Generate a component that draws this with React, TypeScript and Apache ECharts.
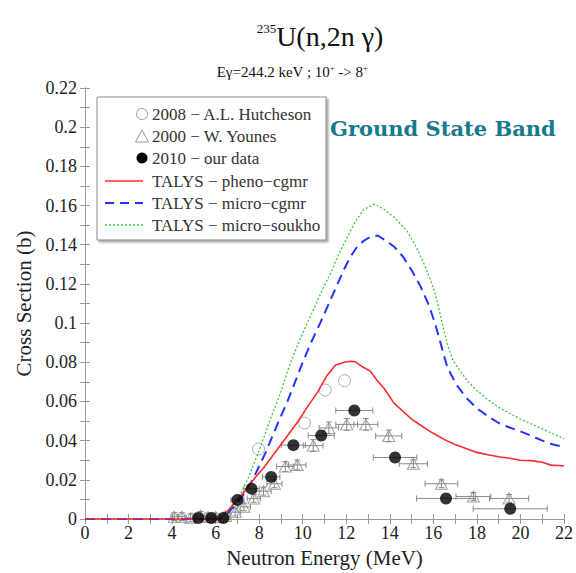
import React, { useEffect, useRef } from "react";
import * as echarts from "echarts";

// Measured points: [energy MeV, cross section b, x half-width, y half-width]
const younes2000: number[][] = [
  [4.1, 0.0012, 0.15, 0.002], [4.45, 0.0012, 0.15, 0.002], [4.85, 0.0006, 0.2, 0.002],
  [5.3, 0.0018, 0.2, 0.002], [5.65, 0.001, 0.2, 0.002], [6.0, 0.001, 0.2, 0.002],
  [6.45, 0.0015, 0.25, 0.002], [6.9, 0.0035, 0.25, 0.002], [7.3, 0.0062, 0.3, 0.002],
  [7.75, 0.0105, 0.3, 0.002], [8.2, 0.0142, 0.35, 0.002], [8.7, 0.018, 0.35, 0.002],
  [9.2, 0.0268, 0.4, 0.0025], [9.75, 0.0276, 0.4, 0.0025], [10.48, 0.0375, 0.45, 0.003],
  [11.2, 0.0465, 0.45, 0.003], [12.02, 0.0483, 0.5, 0.003], [12.9, 0.0483, 0.55, 0.003],
  [13.95, 0.0424, 0.6, 0.003], [15.08, 0.0282, 0.65, 0.002], [16.37, 0.018, 0.75, 0.002],
  [17.84, 0.0115, 0.8, 0.002], [19.48, 0.0105, 0.9, 0.002],
];

const hutcheson2008: number[][] = [
  [7.97, 0.0357], [10.08, 0.049], [11.03, 0.0658], [11.92, 0.0706],
];

const ourData2010: number[][] = [
  [5.2, 0.0005, 0.2, 0], [5.8, 0.0005, 0.2, 0], [6.35, 0.0005, 0.25, 0],
  [7.0, 0.0097, 0.3, 0], [7.65, 0.0155, 0.35, 0], [8.55, 0.0215, 0.4, 0],
  [9.57, 0.0377, 0.55, 0], [10.85, 0.0426, 0.6, 0], [12.37, 0.0554, 0.85, 0],
  [14.24, 0.0314, 1.0, 0], [16.58, 0.0105, 1.35, 0], [19.53, 0.0052, 1.7, 0],
];

// TALYS calculations: [energy MeV, cross section b]
const phenoCgmr: number[][] = [
  [0, 0], [6.0, 0], [6.3, 0.001], [6.7, 0.006], [7.0, 0.01], [7.4, 0.015], [7.8, 0.021],
  [8.2, 0.026], [8.6, 0.032], [9.0, 0.038], [9.4, 0.044], [9.8, 0.05], [10.2, 0.057],
  [10.7, 0.065], [11.1, 0.073], [11.5, 0.0785], [11.9, 0.08], [12.2, 0.0805], [12.4, 0.0803],
  [12.7, 0.078], [13.1, 0.0755], [13.4, 0.071], [13.75, 0.0665], [14.2, 0.059], [14.6, 0.055],
  [15.0, 0.051], [15.4, 0.048], [15.8, 0.045], [16.2, 0.0425], [16.6, 0.04], [17.0, 0.038],
  [17.5, 0.036], [18.0, 0.034], [18.5, 0.0328], [19.0, 0.0318], [19.5, 0.031], [20.0, 0.03],
  [20.5, 0.0298], [21.0, 0.029], [21.4, 0.0275], [22.0, 0.0272],
];

const microCgmr: number[][] = [
  [0, 0], [6.1, 0], [6.4, 0.001], [6.8, 0.006], [7.2, 0.011], [7.7, 0.02], [8.0, 0.027],
  [8.3, 0.034], [8.9, 0.05], [9.3, 0.06], [9.65, 0.07], [10.0, 0.08], [10.4, 0.0905],
  [10.8, 0.1], [11.2, 0.11], [11.6, 0.12], [11.9, 0.1275], [12.2, 0.134], [12.5, 0.139],
  [12.8, 0.142], [13.1, 0.144], [13.45, 0.1447], [13.9, 0.1415], [14.2, 0.139], [14.6, 0.134],
  [15.0, 0.127], [15.4, 0.119], [15.8, 0.109], [16.1, 0.099], [16.35, 0.089], [16.6, 0.079],
  [16.8, 0.074], [17.1, 0.068], [17.5, 0.062], [18.0, 0.0565], [18.5, 0.0525], [19.0, 0.049],
  [19.5, 0.0467], [20.0, 0.0447], [20.5, 0.0425], [21.0, 0.04], [21.5, 0.038], [22.0, 0.0368],
];

const microSoukho: number[][] = [
  [0, 0], [6.0, 0], [6.3, 0.001], [6.7, 0.006], [7.1, 0.012], [7.5, 0.021], [8.0, 0.035],
  [8.6, 0.0535], [9.0, 0.065], [9.35, 0.077], [9.7, 0.087], [10.1, 0.0975], [10.5, 0.107],
  [10.9, 0.117], [11.3, 0.126], [11.65, 0.135], [12.0, 0.143], [12.4, 0.1515], [12.8, 0.158],
  [13.3, 0.1607], [13.75, 0.158], [14.2, 0.154], [14.8, 0.147], [15.3, 0.137], [15.7, 0.127],
  [16.0, 0.118], [16.2, 0.11], [16.45, 0.098], [16.65, 0.089], [16.9, 0.081], [17.2, 0.076],
  [17.6, 0.07], [18.0, 0.0655], [18.5, 0.061], [19.0, 0.057], [19.5, 0.054], [20.0, 0.051],
  [20.5, 0.0485], [21.0, 0.046], [21.5, 0.0435], [22.0, 0.041],
];

const legendLabels = [
  "2008 \u2212 A.L. Hutcheson",
  "2000 \u2212 W. Younes",
  "2010 \u2212 our data",
  "TALYS \u2212 pheno\u2212cgmr",
  "TALYS \u2212 micro\u2212cgmr",
  "TALYS \u2212 micro\u2212soukho",
];

const SERIF = "Liberation Serif";
const FRAME = "#9a9a9a";
const RED = "#ff2a2a";
const BLUE = "#2233ff";
const GREEN = "#33cc33";

// Horizontal / vertical error bars with small end caps
function errorBarRenderer(params: any, api: any) {
  const x = api.value(0);
  const y = api.value(1);
  const ex = api.value(2);
  const ey = api.value(3);
  const style = { stroke: "#8a8a8a", lineWidth: 1, fill: "none" };
  const children: any[] = [];
  const cap = 3;
  if (ex > 0) {
    const a = api.coord([x - ex, y]);
    const b = api.coord([x + ex, y]);
    children.push({ type: "line", shape: { x1: a[0], y1: a[1], x2: b[0], y2: b[1] }, style });
    children.push({ type: "line", shape: { x1: a[0], y1: a[1] - cap, x2: a[0], y2: a[1] + cap }, style });
    children.push({ type: "line", shape: { x1: b[0], y1: b[1] - cap, x2: b[0], y2: b[1] + cap }, style });
  }
  if (ey > 0) {
    const c = api.coord([x, y - ey]);
    const d = api.coord([x, y + ey]);
    children.push({ type: "line", shape: { x1: c[0], y1: c[1], x2: d[0], y2: d[1] }, style });
    children.push({ type: "line", shape: { x1: c[0] - cap, y1: c[1], x2: c[0] + cap, y2: c[1] }, style });
    children.push({ type: "line", shape: { x1: d[0] - cap, y1: d[1], x2: d[0] + cap, y2: d[1] }, style });
  }
  return { type: "group", children };
}

function legendGraphics() {
  const symX = 142;
  const textX = 152;
  const rows = [114, 136, 158, 181, 203, 225];
  const els: any[] = [
    {
      type: "rect",
      shape: { x: 97, y: 97, width: 229, height: 143 },
      style: { fill: "#fff", stroke: "#888", lineWidth: 1, shadowColor: "rgba(0,0,0,0.35)", shadowOffsetX: 2, shadowOffsetY: 2, shadowBlur: 2 },
      z: 10,
    },
    { type: "circle", shape: { cx: symX, cy: rows[0], r: 5.5 }, style: { fill: "none", stroke: "#999", lineWidth: 1 }, z: 11 },
    {
      type: "polygon",
      shape: { points: [[symX, rows[1] - 6], [symX - 6.5, rows[1] + 6], [symX + 6.5, rows[1] + 6]] },
      style: { fill: "none", stroke: "#999", lineWidth: 1 },
      z: 11,
    },
    { type: "circle", shape: { cx: symX, cy: rows[2], r: 5.5 }, style: { fill: "#000" }, z: 11 },
    { type: "line", shape: { x1: 105, y1: rows[3], x2: 143, y2: rows[3] }, style: { stroke: RED, lineWidth: 1.6 }, z: 11 },
    { type: "line", shape: { x1: 105, y1: rows[4], x2: 143, y2: rows[4] }, style: { stroke: BLUE, lineWidth: 2, lineDash: [9, 6] }, z: 11 },
    { type: "line", shape: { x1: 105, y1: rows[5], x2: 143, y2: rows[5] }, style: { stroke: GREEN, lineWidth: 1.3, lineDash: [2, 2] }, z: 11 },
  ];
  legendLabels.forEach((label, i) => {
    els.push({
      type: "text",
      x: textX,
      y: rows[i],
      style: { text: label, fontFamily: SERIF, fontSize: 17, fill: "#333", verticalAlign: "middle", align: "left" },
      z: 11,
    });
  });
  return els;
}

export default function App() {
  const ref = useRef<HTMLDivElement>(null);

  useEffect(() => {
    if (!ref.current) return;
    const chart = echarts.init(ref.current, undefined, { renderer: "svg" });

    const axisLine = { show: true, lineStyle: { color: FRAME, width: 1 } };
    const tick = { show: true, inside: true, length: 5, lineStyle: { color: FRAME } };
    const minorTick = { show: true, splitNumber: 2, length: 5, lineStyle: { color: FRAME } };
    const label = { fontFamily: SERIF, fontSize: 18, color: "#222" };

    chart.setOption({
      animation: false,
      backgroundColor: "#fff",
      grid: { left: 85, right: 6, top: 88, bottom: 48 },
      xAxis: [
        {
          type: "value", min: 0, max: 22, interval: 2, position: "bottom",
          axisLine, axisTick: tick, minorTick, splitLine: { show: false },
          axisLabel: { ...label, margin: 5 },
          name: "Neutron Energy (MeV)", nameLocation: "middle", nameGap: 28,
          nameTextStyle: { fontFamily: SERIF, fontSize: 21, color: "#222" },
        },
        {
          type: "value", min: 0, max: 22, interval: 2, position: "top",
          axisLine, axisTick: tick, minorTick, splitLine: { show: false }, axisLabel: { show: false },
        },
      ],
      yAxis: [
        {
          type: "value", min: 0, max: 0.22, interval: 0.02, position: "left",
          axisLine, axisTick: tick, minorTick, splitLine: { show: false },
          axisLabel: { ...label, margin: 8 },
          name: "Cross Section (b)", nameLocation: "middle", nameGap: 48,
          nameTextStyle: { fontFamily: SERIF, fontSize: 21, color: "#222" },
        },
        {
          type: "value", min: 0, max: 0.22, interval: 0.02, position: "right",
          axisLine, axisTick: tick, minorTick, splitLine: { show: false }, axisLabel: { show: false },
        },
      ],
      series: [
        {
          name: "Younes error bars", type: "custom", renderItem: errorBarRenderer,
          data: younes2000, encode: { x: 0, y: 1 }, z: 2, silent: true,
        },
        {
          name: "our data error bars", type: "custom", renderItem: errorBarRenderer,
          data: ourData2010, encode: { x: 0, y: 1 }, z: 2, silent: true,
        },
        {
          name: legendLabels[1], type: "scatter", symbol: "triangle", symbolSize: [12, 11],
          data: younes2000.map((d) => [d[0], d[1]]),
          itemStyle: { color: "rgba(255,255,255,0)", borderColor: "#8a8a8a", borderWidth: 1 }, z: 3,
        },
        {
          name: legendLabels[0], type: "scatter", symbol: "circle", symbolSize: 12,
          data: hutcheson2008,
          itemStyle: { color: "rgba(255,255,255,0)", borderColor: "#999", borderWidth: 1 }, z: 3,
        },
        {
          name: legendLabels[5], type: "line", data: microSoukho, showSymbol: false,
          lineStyle: { color: GREEN, width: 1.3, type: [2, 2] }, z: 4,
        },
        {
          name: legendLabels[4], type: "line", data: microCgmr, showSymbol: false,
          lineStyle: { color: BLUE, width: 2, type: [10, 6] }, z: 4,
        },
        {
          name: legendLabels[3], type: "line", data: phenoCgmr, showSymbol: false,
          lineStyle: { color: RED, width: 1.6 }, z: 4,
        },
        {
          name: legendLabels[2], type: "scatter", symbol: "circle", symbolSize: 12,
          data: ourData2010.map((d) => [d[0], d[1]]),
          itemStyle: { color: "#000" }, z: 5,
        },
      ],
      graphic: [
        {
          type: "text", x: 320, y: 36,
          style: {
            text: "{s|235}{m|U(n,2n \u03b3)}",
            align: "center", verticalAlign: "middle", fill: "#111",
            rich: {
              s: { fontFamily: SERIF, fontSize: 13, verticalAlign: "top", fill: "#111" },
              m: { fontFamily: SERIF, fontSize: 28, fill: "#111" },
            },
          },
        },
        {
          type: "text", x: 292, y: 72,
          style: {
            text: "{a|E\u03b3=244.2 keV ; 10}{s|+}{a| -> 8}{s|+}",
            align: "center", verticalAlign: "middle", fill: "#111",
            rich: {
              a: { fontFamily: SERIF, fontSize: 15, fill: "#111" },
              s: { fontFamily: SERIF, fontSize: 8, verticalAlign: "top", fill: "#111" },
            },
          },
        },
        {
          type: "text", x: 330, y: 128,
          style: {
            text: "Ground State Band",
            fontFamily: "DejaVu Serif", fontWeight: "bold", fontSize: 21,
            fill: "#16798c", align: "left", verticalAlign: "middle",
          },
          z: 10,
        },
        ...legendGraphics(),
      ],
    });

    return () => chart.dispose();
  }, []);

  return <div ref={ref} style={{ position: "absolute", left: 0, top: 0, width: 576, height: 573 }} />;
}
